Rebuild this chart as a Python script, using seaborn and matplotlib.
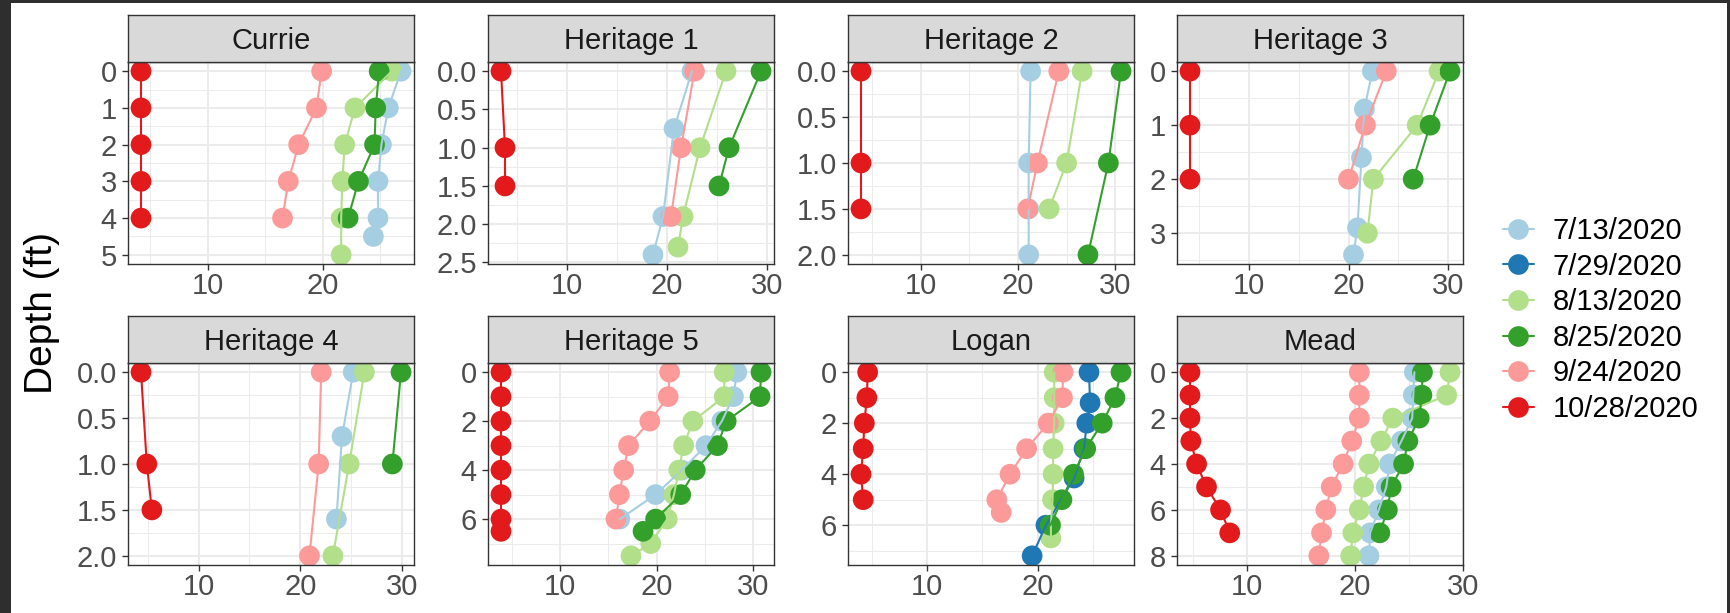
import numpy as np
import pandas as pd
import matplotlib
matplotlib.use("Agg")
import matplotlib.pyplot as plt
from matplotlib.lines import Line2D
from matplotlib.patches import Rectangle
from matplotlib.ticker import MultipleLocator
import seaborn as sns

# Sampling dates (legend order) and lake sites (panel order)
DATES = ["7/13/2020", "7/29/2020", "8/13/2020", "8/25/2020", "9/24/2020", "10/28/2020"]
SITES = ["Currie", "Heritage 1", "Heritage 2", "Heritage 3",
         "Heritage 4", "Heritage 5", "Logan", "Mead"]

# Temperature profiles per site: date -> (depths in ft, temperature in deg C)
CURRIE = {
    "7/13/2020": ([0, 1, 2, 3, 4, 4.5], [26.8, 25.7, 25.1, 24.8, 24.8, 24.4]),
    "8/13/2020": ([0, 1, 2, 3, 4, 5], [26.0, 22.8, 21.9, 21.7, 21.6, 21.6]),
    "8/25/2020": ([0, 1, 2, 3, 4], [24.9, 24.6, 24.5, 23.1, 22.2]),
    "9/24/2020": ([0, 1, 2, 3, 4], [19.9, 19.45, 17.9, 17.0, 16.5]),
    "10/28/2020": ([0, 1, 2, 3, 4], [4.2, 4.2, 4.2, 4.2, 4.2]),
}
HERITAGE_1 = {
    "7/13/2020": ([0, 0.75, 1.9, 2.4], [22.5, 20.7, 19.6, 18.6]),
    "8/13/2020": ([0, 1, 1.9, 2.3], [25.9, 23.3, 21.6, 21.1]),
    "8/25/2020": ([0, 1, 1.5], [29.4, 26.2, 25.2]),
    "9/24/2020": ([0, 1, 1.9], [22.75, 21.4, 20.4]),
    "10/28/2020": ([0, 1, 1.5], [3.4, 3.8, 3.8]),
}
HERITAGE_2 = {
    "7/13/2020": ([0, 1, 1.5, 2], [21.3, 21.1, 21.1, 21.1]),
    "8/13/2020": ([0, 1, 1.5], [26.6, 25.0, 23.2]),
    "8/25/2020": ([0, 1, 2], [30.6, 29.3, 27.2]),
    "9/24/2020": ([0, 1, 1.5], [24.2, 22.0, 21.0]),
    "10/28/2020": ([0, 1, 1.5], [3.85, 3.85, 3.85]),
}
HERITAGE_3 = {
    "7/13/2020": ([0, 0.7, 1.6, 2.9, 3.4], [22.4, 21.6, 21.3, 20.9, 20.5]),
    "8/13/2020": ([0, 1, 2, 3], [29.1, 26.9, 22.5, 21.9]),
    "8/25/2020": ([0, 1, 2], [30.2, 28.2, 26.5]),
    "9/24/2020": ([0, 1, 2], [23.8, 21.7, 20.0]),
    "10/28/2020": ([0, 1, 2], [4.07, 4.07, 4.07]),
}
HERITAGE_4 = {
    "7/13/2020": ([0, 0.7, 1.6], [25.2, 24.1, 23.55]),
    "8/13/2020": ([0, 1, 2], [26.3, 24.8, 23.2]),
    "8/25/2020": ([0, 1], [29.9, 29.05]),
    "9/24/2020": ([0, 1, 2], [22.05, 21.8, 20.9]),
    "10/28/2020": ([0, 1, 1.5], [4.33, 4.9, 5.4]),
}
HERITAGE_5 = {
    "7/13/2020": ([0, 1, 2, 3, 4, 5, 6], [28.3, 27.95, 26.75, 25.1, 22.6, 19.9, 16.2]),
    "8/13/2020": ([0, 1, 2, 3, 4, 5, 6, 7, 7.5],
                  [27.0, 27.0, 23.75, 22.8, 22.3, 21.8, 21.1, 19.4, 17.35]),
    "8/25/2020": ([0, 1, 2, 3, 4, 5, 6, 6.5],
                  [30.8, 30.7, 27.2, 26.3, 24.0, 22.5, 19.9, 18.6]),
    "9/24/2020": ([0, 1, 2, 3, 4, 5, 6], [21.35, 21.2, 19.3, 17.1, 16.6, 16.15, 15.8]),
    "10/28/2020": ([0, 1, 2, 3, 4, 5, 6, 6.5],
                   [3.91, 3.91, 3.91, 3.91, 3.91, 3.91, 3.91, 3.91]),
}
LOGAN = {
    "7/29/2020": ([0, 1.2, 2, 3, 4.15, 6, 7.2], [24.65, 24.75, 24.45, 24.2, 23.3, 20.75, 19.5]),
    "8/13/2020": ([0, 1, 2, 3, 4, 5, 6, 6.5],
                  [21.5, 21.5, 21.5, 21.4, 21.4, 21.35, 21.2, 21.2]),
    "8/25/2020": ([0, 1, 2, 3, 4, 5, 6], [27.55, 27.0, 25.85, 24.35, 23.25, 22.2, 21.15]),
    "9/24/2020": ([0, 1, 2, 3, 4, 5, 5.5], [22.3, 22.25, 20.96, 19.0, 17.5, 16.3, 16.7]),
    "10/28/2020": ([0, 1, 2, 3, 4, 5], [4.6, 4.53, 4.3, 4.2, 4.0, 4.2]),
}
MEAD = {
    "7/13/2020": ([0, 1, 2, 3, 4, 5, 6, 7, 8],
                  [25.5, 25.4, 25.3, 24.3, 23.2, 22.9, 22.2, 21.4, 21.3]),
    "8/13/2020": ([0, 1, 2, 3, 4, 5, 6, 7, 8],
                  [28.8, 28.5, 23.5, 22.4, 21.3, 20.8, 20.4, 19.8, 19.6]),
    "8/25/2020": ([0, 1, 2, 3, 4, 5, 6, 7],
                  [26.25, 26.2, 25.95, 24.9, 24.5, 23.35, 23.0, 22.3]),
    "9/24/2020": ([0, 1, 2, 3, 4, 5, 6, 7, 8],
                  [20.4, 20.4, 20.4, 19.7, 18.9, 17.8, 17.3, 16.9, 16.65]),
    "10/28/2020": ([0, 1, 2, 3, 4, 5, 6, 7],
                   [4.72, 4.72, 4.72, 4.8, 5.33, 6.25, 7.55, 8.4]),
}
SITE_DATA = {"Currie": CURRIE, "Heritage 1": HERITAGE_1, "Heritage 2": HERITAGE_2,
             "Heritage 3": HERITAGE_3, "Heritage 4": HERITAGE_4,
             "Heritage 5": HERITAGE_5, "Logan": LOGAN, "Mead": MEAD}

# Axis breaks
X_TICKS = [10, 20, 30]
Y_TICKS = {
    "Currie": [0, 1, 2, 3, 4, 5],
    "Heritage 1": [0.0, 0.5, 1.0, 1.5, 2.0, 2.5],
    "Heritage 2": [0.0, 0.5, 1.0, 1.5, 2.0],
    "Heritage 3": [0, 1, 2, 3],
    "Heritage 4": [0.0, 0.5, 1.0, 1.5, 2.0],
    "Heritage 5": [0, 2, 4, 6],
    "Logan": [0, 2, 4, 6],
    "Mead": [0, 2, 4, 6, 8],
}

# Long-form table
records = []
for site in SITES:
    for date in DATES:
        if date in SITE_DATA[site]:
            depths, temps = SITE_DATA[site][date]
            for d, t in zip(depths, temps):
                records.append({"site": site, "date": date, "depth": d, "temp": t})
df = pd.DataFrame(records)

sns.set_style("white")
plt.rcParams["font.family"] = ["Liberation Sans", "DejaVu Sans"]

palette = dict(zip(DATES, sns.color_palette("Paired", 6)))

W, H = 1731, 613
fig = plt.figure(figsize=(W / 100, H / 100), dpi=100)
fig.patch.set_facecolor("#2e2e2e")
fig.add_artist(Rectangle((11 / W, 0), (1727 - 11) / W, (H - 3) / H,
                         transform=fig.transFigure, facecolor="white",
                         edgecolor="none", zorder=-10))

COL_LEFT = [128, 488, 848, 1177]
ROW_TOP = [62, 363]
PANEL_W, PANEL_H, STRIP_H = 286, 202, 47
BORDER = "#333333"
TEXT_SIZE = 21

for i, site in enumerate(SITES):
    r, c = divmod(i, 4)
    left, top = COL_LEFT[c], ROW_TOP[r]
    ax = fig.add_axes([left / W, 1 - (top + PANEL_H) / H, PANEL_W / W, PANEL_H / H])
    sub = df[df["site"] == site]

    sns.scatterplot(data=sub, x="temp", y="depth", hue="date", hue_order=DATES,
                    palette=palette, s=222, linewidth=0, legend=False, ax=ax)
    sns.lineplot(data=sub, x="temp", y="depth", hue="date", hue_order=DATES,
                 palette=palette, sort=False, estimator=None, linewidth=1.5,
                 legend=False, ax=ax)
    ax.set_xlabel("")
    ax.set_ylabel("")

    # 5% expansion on each side, depth axis reversed
    x0, x1 = sub["temp"].min(), sub["temp"].max()
    xp = 0.05 * (x1 - x0)
    y0, y1 = sub["depth"].min(), sub["depth"].max()
    yp = 0.05 * (y1 - y0)
    ax.set_xlim(x0 - xp, x1 + xp)
    ax.set_ylim(y1 + yp, y0 - yp)

    xt = [t for t in X_TICKS if x0 - xp <= t <= x1 + xp]
    ax.set_xticks(xt, [str(t) for t in xt])
    yt = Y_TICKS[site]
    ystep = yt[1] - yt[0]
    if all(float(v).is_integer() for v in yt):
        ylab = [str(int(v)) for v in yt]
    else:
        ylab = [f"{v:.1f}" for v in yt]
    ax.set_yticks(yt, ylab)
    ax.xaxis.set_minor_locator(MultipleLocator(5))
    ax.yaxis.set_minor_locator(MultipleLocator(ystep / 2))

    ax.set_axisbelow(True)
    ax.grid(True, which="major", color="#EBEBEB", linewidth=1.5)
    ax.grid(True, which="minor", color="#EBEBEB", linewidth=0.75)
    ax.tick_params(axis="both", which="major", bottom=True, left=True,
                   length=4, width=1.0, color=BORDER, labelsize=TEXT_SIZE,
                   labelcolor="#4D4D4D")
    ax.tick_params(axis="x", which="major", pad=1.5)
    ax.tick_params(axis="y", which="major", pad=4)
    ax.tick_params(which="minor", length=0)
    for sp in ax.spines.values():
        sp.set_color(BORDER)
        sp.set_linewidth(1.0)
        sp.set_zorder(5)

    # facet strip
    sax = fig.add_axes([left / W, 1 - top / H, PANEL_W / W, STRIP_H / H])
    sax.set_facecolor("#D9D9D9")
    sax.set_xticks([])
    sax.set_yticks([])
    for sp in sax.spines.values():
        sp.set_color(BORDER)
        sp.set_linewidth(1.0)
    sax.text(0.5, 0.28, site, ha="center", va="baseline", fontsize=TEXT_SIZE,
             color="#1A1A1A", transform=sax.transAxes)

handles = [Line2D([], [], color=palette[d], marker="o", markersize=14.9,
                  markeredgewidth=0, linewidth=1.5) for d in DATES]
fig.legend(handles, DATES, loc="center left", bbox_to_anchor=(1503 / W, 1 - 320 / H),
           frameon=False, fontsize=TEXT_SIZE, handlelength=1.05, handletextpad=0.66,
           labelspacing=0.26, borderpad=0, borderaxespad=0, labelcolor="black")

fig.text(42 / W, 1 - 313 / H, "Depth (ft)", rotation=90, ha="center", va="center",
         fontsize=28, color="black")

fig.savefig("out.png", dpi=100, facecolor=fig.get_facecolor())
